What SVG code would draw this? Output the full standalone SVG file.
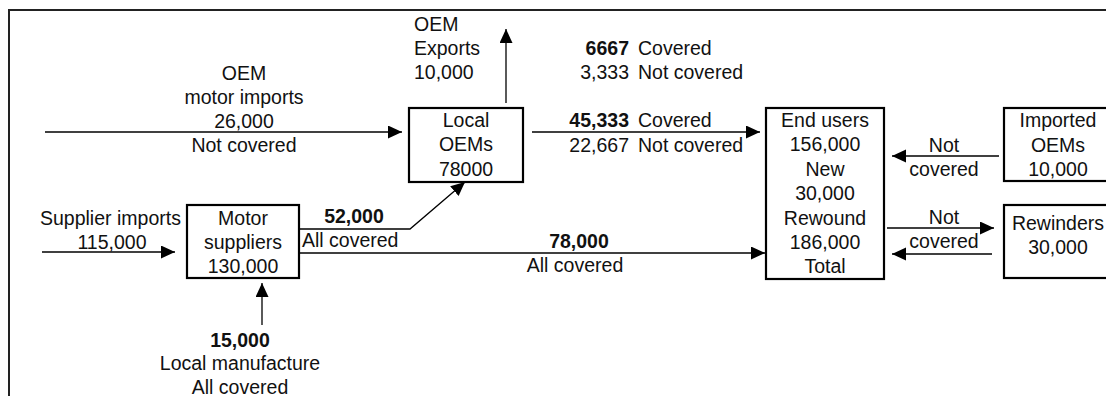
<svg xmlns="http://www.w3.org/2000/svg" width="1106" height="396" viewBox="0 0 1106 396">
<style>
text{font-family:"Liberation Sans",Arial,sans-serif;font-size:19.5px;fill:#111}
.m{text-anchor:middle}
.e{text-anchor:end}
.b{font-weight:bold}
.box{fill:#fff;stroke:#000;stroke-width:2.2}
.c{fill:none;stroke:#000;stroke-width:1.3}
</style>
<defs>
<marker id="ah" markerUnits="userSpaceOnUse" markerWidth="15" markerHeight="14" refX="14" refY="6.5" orient="auto">
<path d="M0,0 L14,6.5 L0,13 z" fill="#000"/>
</marker>
</defs>
<rect width="1106" height="396" fill="#fff"/>
<path d="M9,396 L9,10 L1106,10" fill="none" stroke="#222" stroke-width="2"/>

<g id="connectors">
<line class="c" x1="45" y1="132" x2="402" y2="132" marker-end="url(#ah)"/>
<line class="c" x1="506" y1="103" x2="506" y2="29" marker-end="url(#ah)"/>
<line class="c" x1="532" y1="132" x2="760" y2="132" marker-end="url(#ah)"/>
<line class="c" x1="999" y1="156" x2="892" y2="156" marker-end="url(#ah)"/>
<line class="c" x1="887" y1="228" x2="994" y2="228" marker-end="url(#ah)"/>
<line class="c" x1="992" y1="254" x2="892" y2="254" marker-end="url(#ah)"/>
<line class="c" x1="42" y1="252" x2="175" y2="252" marker-end="url(#ah)"/>
<line class="c" x1="262" y1="325" x2="262" y2="283" marker-end="url(#ah)"/>
<polyline class="c" points="299,229 410,229 465,182" marker-end="url(#ah)"/>
<line class="c" x1="299" y1="253" x2="765" y2="253" marker-end="url(#ah)"/>
</g>

<g id="labels">
<text class="m" x="244" y="80">OEM</text>
<text class="m" x="244" y="104">motor imports</text>
<text class="m" x="244" y="128">26,000</text>
<text class="m" x="244" y="152">Not covered</text>

<text x="414" y="31">OEM</text>
<text x="414" y="55">Exports</text>
<text x="414" y="79">10,000</text>

<text class="e b" x="629" y="55">6667</text>
<text x="638" y="55">Covered</text>
<text class="e" x="629" y="79">3,333</text>
<text x="638" y="79">Not covered</text>

<text class="e b" x="629" y="127">45,333</text>
<text x="638" y="127">Covered</text>
<text class="e" x="629" y="152">22,667</text>
<text x="638" y="152">Not covered</text>

<text class="m" x="944" y="152">Not</text>
<text class="m" x="944" y="176">covered</text>
<text class="m" x="944" y="224">Not</text>
<text class="m" x="944" y="248">covered</text>

<text x="40" y="225">Supplier imports</text>
<text class="m" x="112" y="249">115,000</text>

<text class="m b" x="240" y="347">15,000</text>
<text class="m" x="240" y="370">Local manufacture</text>
<text class="m" x="240" y="394">All covered</text>

<text class="m b" x="354" y="223">52,000</text>
<text x="302" y="247">All covered</text>

<text class="m b" x="579" y="248">78,000</text>
<text class="m" x="575" y="272">All covered</text>
</g>

<g id="local-oems">
<rect class="box" x="409" y="108" width="114" height="74"/>
<text class="m" x="466" y="127">Local</text>
<text class="m" x="466" y="151">OEMs</text>
<text class="m" x="466" y="176">78000</text>
</g>

<g id="end-users">
<rect class="box" x="766" y="108" width="118" height="171"/>
<text class="m" x="825" y="127">End users</text>
<text class="m" x="825" y="151.4">156,000</text>
<text class="m" x="825" y="175.8">New</text>
<text class="m" x="825" y="200.2">30,000</text>
<text class="m" x="825" y="224.6">Rewound</text>
<text class="m" x="825" y="249">186,000</text>
<text class="m" x="825" y="273.4">Total</text>
</g>

<g id="imported-oems">
<rect class="box" x="1004" y="108" width="108" height="73"/>
<text class="m" x="1058" y="127">Imported</text>
<text class="m" x="1058" y="152">OEMs</text>
<text class="m" x="1058" y="176">10,000</text>
</g>

<g id="rewinders">
<rect class="box" x="1004" y="205" width="108" height="73"/>
<text class="m" x="1058" y="230">Rewinders</text>
<text class="m" x="1058" y="254">30,000</text>
</g>

<g id="motor-suppliers">
<rect class="box" x="187" y="205" width="112" height="73"/>
<text class="m" x="243" y="225">Motor</text>
<text class="m" x="243" y="249">suppliers</text>
<text class="m" x="243" y="273">130,000</text>
</g>
</svg>
